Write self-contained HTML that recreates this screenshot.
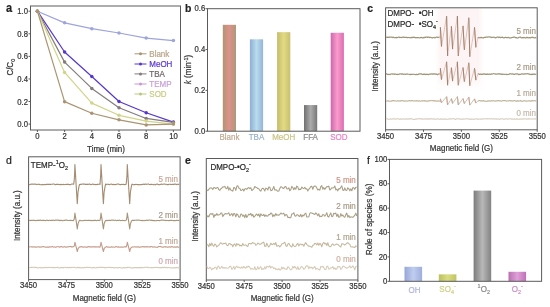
<!DOCTYPE html>
<html><head><meta charset="utf-8"><style>
html,body{margin:0;padding:0;background:#fff;overflow:hidden;width:550px;height:307px;}
svg{display:block;font-family:"Liberation Sans", sans-serif;filter:blur(0.3px);}
text{stroke-width:0.2px;paint-order:stroke;}
</style></head><body>
<svg width="550" height="307" viewBox="0 0 550 307">
<rect width="550" height="307" fill="#fff"/>
<rect x="30.50" y="6.00" width="150.00" height="124.00" fill="none" stroke="#5a5a5a" stroke-width="1"/>
<line x1="28.50" y1="124.10" x2="30.50" y2="124.10" stroke="#5a5a5a" stroke-width="1"/>
<text x="0" y="0" font-size="7.7" text-anchor="end" fill="#333" stroke="#333" font-weight="normal" transform="translate(28.00,127.20) scale(1,1.12)" >0.0</text>
<line x1="28.50" y1="101.52" x2="30.50" y2="101.52" stroke="#5a5a5a" stroke-width="1"/>
<text x="0" y="0" font-size="7.7" text-anchor="end" fill="#333" stroke="#333" font-weight="normal" transform="translate(28.00,104.62) scale(1,1.12)" >0.2</text>
<line x1="28.50" y1="78.94" x2="30.50" y2="78.94" stroke="#5a5a5a" stroke-width="1"/>
<text x="0" y="0" font-size="7.7" text-anchor="end" fill="#333" stroke="#333" font-weight="normal" transform="translate(28.00,82.04) scale(1,1.12)" >0.4</text>
<line x1="28.50" y1="56.36" x2="30.50" y2="56.36" stroke="#5a5a5a" stroke-width="1"/>
<text x="0" y="0" font-size="7.7" text-anchor="end" fill="#333" stroke="#333" font-weight="normal" transform="translate(28.00,59.46) scale(1,1.12)" >0.6</text>
<line x1="28.50" y1="33.78" x2="30.50" y2="33.78" stroke="#5a5a5a" stroke-width="1"/>
<text x="0" y="0" font-size="7.7" text-anchor="end" fill="#333" stroke="#333" font-weight="normal" transform="translate(28.00,36.88) scale(1,1.12)" >0.8</text>
<line x1="28.50" y1="11.20" x2="30.50" y2="11.20" stroke="#5a5a5a" stroke-width="1"/>
<text x="0" y="0" font-size="7.7" text-anchor="end" fill="#333" stroke="#333" font-weight="normal" transform="translate(28.00,14.30) scale(1,1.12)" >1.0</text>
<line x1="37.40" y1="130.00" x2="37.40" y2="132.00" stroke="#5a5a5a" stroke-width="1"/>
<text x="0" y="0" font-size="7.7" text-anchor="middle" fill="#333" stroke="#333" font-weight="normal" transform="translate(37.40,139.20) scale(1,1.12)" >0</text>
<line x1="64.60" y1="130.00" x2="64.60" y2="132.00" stroke="#5a5a5a" stroke-width="1"/>
<text x="0" y="0" font-size="7.7" text-anchor="middle" fill="#333" stroke="#333" font-weight="normal" transform="translate(64.60,139.20) scale(1,1.12)" >2</text>
<line x1="91.80" y1="130.00" x2="91.80" y2="132.00" stroke="#5a5a5a" stroke-width="1"/>
<text x="0" y="0" font-size="7.7" text-anchor="middle" fill="#333" stroke="#333" font-weight="normal" transform="translate(91.80,139.20) scale(1,1.12)" >4</text>
<line x1="119.00" y1="130.00" x2="119.00" y2="132.00" stroke="#5a5a5a" stroke-width="1"/>
<text x="0" y="0" font-size="7.7" text-anchor="middle" fill="#333" stroke="#333" font-weight="normal" transform="translate(119.00,139.20) scale(1,1.12)" >6</text>
<line x1="146.20" y1="130.00" x2="146.20" y2="132.00" stroke="#5a5a5a" stroke-width="1"/>
<text x="0" y="0" font-size="7.7" text-anchor="middle" fill="#333" stroke="#333" font-weight="normal" transform="translate(146.20,139.20) scale(1,1.12)" >8</text>
<line x1="173.40" y1="130.00" x2="173.40" y2="132.00" stroke="#5a5a5a" stroke-width="1"/>
<text x="0" y="0" font-size="7.7" text-anchor="middle" fill="#333" stroke="#333" font-weight="normal" transform="translate(173.40,139.20) scale(1,1.12)" >10</text>
<text x="0" y="0" font-size="8" text-anchor="middle" fill="#333" stroke="#333" font-weight="normal" transform="translate(106.00,151.50) scale(1,1.12)" >Time (min)</text>
<text x="0" y="0" font-size="8" text-anchor="middle" fill="#333" stroke="#333" transform="translate(12.6,67.2) rotate(-90) scale(1,1.12)">C/C<tspan font-size="5.5" dy="2">0</tspan></text>
<text x="0" y="0" font-size="11" text-anchor="start" fill="#222" stroke="#222" font-weight="bold" transform="translate(6.00,12.00) scale(1,1.12)" >a</text>
<polyline points="37.40,11.20 64.60,22.83 91.80,28.70 119.00,32.99 146.20,38.07 173.40,40.55" fill="none" stroke="#9ea4dc" stroke-width="1.2" stroke-linejoin="round" />
<circle cx="37.40" cy="11.20" r="1.75" fill="#9ea4dc"/>
<circle cx="64.60" cy="22.83" r="1.75" fill="#9ea4dc"/>
<circle cx="91.80" cy="28.70" r="1.75" fill="#9ea4dc"/>
<circle cx="119.00" cy="32.99" r="1.75" fill="#9ea4dc"/>
<circle cx="146.20" cy="38.07" r="1.75" fill="#9ea4dc"/>
<circle cx="173.40" cy="40.55" r="1.75" fill="#9ea4dc"/>
<polyline points="37.40,11.20 64.60,51.96 91.80,76.46 119.00,101.52 146.20,112.70 173.40,122.07" fill="none" stroke="#5636cc" stroke-width="1.2" stroke-linejoin="round" />
<circle cx="37.40" cy="11.20" r="1.75" fill="#5636cc"/>
<circle cx="64.60" cy="51.96" r="1.75" fill="#5636cc"/>
<circle cx="91.80" cy="76.46" r="1.75" fill="#5636cc"/>
<circle cx="119.00" cy="101.52" r="1.75" fill="#5636cc"/>
<circle cx="146.20" cy="112.70" r="1.75" fill="#5636cc"/>
<circle cx="173.40" cy="122.07" r="1.75" fill="#5636cc"/>
<polyline points="37.40,11.20 64.60,62.12 91.80,88.42 119.00,107.73 146.20,118.45 173.40,122.41" fill="none" stroke="#857a7c" stroke-width="1.2" stroke-linejoin="round" />
<circle cx="37.40" cy="11.20" r="1.75" fill="#857a7c"/>
<circle cx="64.60" cy="62.12" r="1.75" fill="#857a7c"/>
<circle cx="91.80" cy="88.42" r="1.75" fill="#857a7c"/>
<circle cx="119.00" cy="107.73" r="1.75" fill="#857a7c"/>
<circle cx="146.20" cy="118.45" r="1.75" fill="#857a7c"/>
<circle cx="173.40" cy="122.41" r="1.75" fill="#857a7c"/>
<polyline points="37.40,11.20 64.60,72.39 91.80,103.10 119.00,115.29 146.20,121.05 173.40,124.10" fill="none" stroke="#d2d48a" stroke-width="1.2" stroke-linejoin="round" />
<circle cx="37.40" cy="11.20" r="1.75" fill="#d2d48a"/>
<circle cx="64.60" cy="72.39" r="1.75" fill="#d2d48a"/>
<circle cx="91.80" cy="103.10" r="1.75" fill="#d2d48a"/>
<circle cx="119.00" cy="115.29" r="1.75" fill="#d2d48a"/>
<circle cx="146.20" cy="121.05" r="1.75" fill="#d2d48a"/>
<circle cx="173.40" cy="124.10" r="1.75" fill="#d2d48a"/>
<polyline points="37.40,11.20 64.60,101.63 91.80,113.26 119.00,119.81 146.20,124.89 173.40,124.10" fill="none" stroke="#aa9472" stroke-width="1.2" stroke-linejoin="round" />
<circle cx="37.40" cy="11.20" r="1.75" fill="#aa9472"/>
<circle cx="64.60" cy="101.63" r="1.75" fill="#aa9472"/>
<circle cx="91.80" cy="113.26" r="1.75" fill="#aa9472"/>
<circle cx="119.00" cy="119.81" r="1.75" fill="#aa9472"/>
<circle cx="146.20" cy="124.89" r="1.75" fill="#aa9472"/>
<circle cx="173.40" cy="124.10" r="1.75" fill="#aa9472"/>
<line x1="134.50" y1="53.80" x2="146.50" y2="53.80" stroke="#aa9472" stroke-width="1"/>
<circle cx="140.5" cy="53.80" r="1.5" fill="#aa9472"/>
<text x="0" y="0" font-size="8" text-anchor="start" fill="#b8a488" stroke="#b8a488" font-weight="normal" transform="translate(149.30,56.70) scale(1,1.12)" >Blank</text>
<line x1="134.50" y1="64.00" x2="146.50" y2="64.00" stroke="#5636cc" stroke-width="1"/>
<circle cx="140.5" cy="64.00" r="1.5" fill="#5636cc"/>
<text x="0" y="0" font-size="8" text-anchor="start" fill="#5a36d0" stroke="#5a36d0" font-weight="normal" transform="translate(149.30,66.90) scale(1,1.12)" >MeOH</text>
<line x1="134.50" y1="73.90" x2="146.50" y2="73.90" stroke="#857a7c" stroke-width="1"/>
<circle cx="140.5" cy="73.90" r="1.5" fill="#857a7c"/>
<text x="0" y="0" font-size="8" text-anchor="start" fill="#6e6468" stroke="#6e6468" font-weight="normal" transform="translate(149.30,76.80) scale(1,1.12)" >TBA</text>
<line x1="134.50" y1="84.00" x2="146.50" y2="84.00" stroke="#c49ad8" stroke-width="1"/>
<circle cx="140.5" cy="84.00" r="1.5" fill="#c49ad8"/>
<text x="0" y="0" font-size="8" text-anchor="start" fill="#c8a0d8" stroke="#c8a0d8" font-weight="normal" transform="translate(149.30,86.90) scale(1,1.12)" >TEMP</text>
<line x1="134.50" y1="94.00" x2="146.50" y2="94.00" stroke="#b8c880" stroke-width="1"/>
<circle cx="140.5" cy="94.00" r="1.5" fill="#b8c880"/>
<text x="0" y="0" font-size="8" text-anchor="start" fill="#c8cc80" stroke="#c8cc80" font-weight="normal" transform="translate(149.30,96.90) scale(1,1.12)" >SOD</text>
<defs>
<linearGradient id="gb0" x1="0" x2="1" y1="0" y2="0"><stop offset="0" stop-color="#ae9676"/><stop offset="0.5" stop-color="#e0908a"/><stop offset="1" stop-color="#ab9a7a"/></linearGradient>
<linearGradient id="gb1" x1="0" x2="1" y1="0" y2="0"><stop offset="0" stop-color="#8eaed6"/><stop offset="0.5" stop-color="#b8dcec"/><stop offset="1" stop-color="#96b4d8"/></linearGradient>
<linearGradient id="gb2" x1="0" x2="1" y1="0" y2="0"><stop offset="0" stop-color="#c4bc68"/><stop offset="0.5" stop-color="#e2da84"/><stop offset="1" stop-color="#c8c070"/></linearGradient>
<linearGradient id="gb3" x1="0" x2="1" y1="0" y2="0"><stop offset="0" stop-color="#707070"/><stop offset="0.5" stop-color="#acacac"/><stop offset="1" stop-color="#787878"/></linearGradient>
<linearGradient id="gb4" x1="0" x2="1" y1="0" y2="0"><stop offset="0" stop-color="#cc68ac"/><stop offset="0.5" stop-color="#fa9ccc"/><stop offset="1" stop-color="#dc6cb0"/></linearGradient>
</defs>
<rect x="222.80" y="24.81" width="13.2" height="106.39" fill="url(#gb0)"/>
<text x="0" y="0" font-size="8" text-anchor="middle" fill="#c0a890" stroke="#c0a890" font-weight="normal" transform="translate(229.40,139.50) scale(1,1.12)" >Blank</text>
<rect x="249.90" y="39.31" width="13.2" height="91.89" fill="url(#gb1)"/>
<text x="0" y="0" font-size="8" text-anchor="middle" fill="#98b0cc" stroke="#98b0cc" font-weight="normal" transform="translate(256.50,139.50) scale(1,1.12)" >TBA</text>
<rect x="277.10" y="32.16" width="13.2" height="99.04" fill="url(#gb2)"/>
<text x="0" y="0" font-size="8" text-anchor="middle" fill="#cac486" stroke="#cac486" font-weight="normal" transform="translate(283.70,139.50) scale(1,1.12)" >MeOH</text>
<rect x="304.00" y="105.06" width="13.2" height="26.14" fill="url(#gb3)"/>
<text x="0" y="0" font-size="8" text-anchor="middle" fill="#8a8a8a" stroke="#8a8a8a" font-weight="normal" transform="translate(310.60,139.50) scale(1,1.12)" >FFA</text>
<rect x="330.70" y="32.78" width="13.2" height="98.42" fill="url(#gb4)"/>
<text x="0" y="0" font-size="8" text-anchor="middle" fill="#e484c8" stroke="#e484c8" font-weight="normal" transform="translate(338.80,139.50) scale(1,1.12)" >SOD</text>
<rect x="207.50" y="8.70" width="152.50" height="122.50" fill="none" stroke="#5a5a5a" stroke-width="1"/>
<line x1="205.50" y1="131.20" x2="207.50" y2="131.20" stroke="#5a5a5a" stroke-width="1"/>
<text x="0" y="0" font-size="7.7" text-anchor="end" fill="#333" stroke="#333" font-weight="normal" transform="translate(205.20,134.00) scale(1,1.12)" >0.0</text>
<line x1="205.50" y1="90.36" x2="207.50" y2="90.36" stroke="#5a5a5a" stroke-width="1"/>
<text x="0" y="0" font-size="7.7" text-anchor="end" fill="#333" stroke="#333" font-weight="normal" transform="translate(205.20,93.16) scale(1,1.12)" >0.2</text>
<line x1="205.50" y1="49.52" x2="207.50" y2="49.52" stroke="#5a5a5a" stroke-width="1"/>
<text x="0" y="0" font-size="7.7" text-anchor="end" fill="#333" stroke="#333" font-weight="normal" transform="translate(205.20,52.32) scale(1,1.12)" >0.4</text>
<line x1="205.50" y1="8.68" x2="207.50" y2="8.68" stroke="#5a5a5a" stroke-width="1"/>
<text x="0" y="0" font-size="7.7" text-anchor="end" fill="#333" stroke="#333" font-weight="normal" transform="translate(205.20,11.48) scale(1,1.12)" >0.6</text>
<text x="0" y="0" font-size="8" text-anchor="middle" fill="#333" stroke="#333" transform="translate(191.2,69.5) rotate(-90) scale(1,1.12)"><tspan font-style="italic">k</tspan> (min<tspan font-size="5.5" dy="-3">-1</tspan><tspan dy="3">)</tspan></text>
<text x="0" y="0" font-size="10.5" text-anchor="start" fill="#222" stroke="#222" font-weight="bold" transform="translate(185.00,11.60) scale(1,1.12)" >b</text>
<defs><linearGradient id="pband" x1="0" x2="1" y1="0" y2="0"><stop offset="0" stop-color="#fdf3f3" stop-opacity="0"/><stop offset="0.12" stop-color="#fdf5f5"/><stop offset="0.88" stop-color="#fdf5f5"/><stop offset="1" stop-color="#fdf3f3" stop-opacity="0"/></linearGradient></defs>
<defs><linearGradient id="vfade" x1="0" x2="0" y1="0" y2="1"><stop offset="0" stop-color="#fff"/><stop offset="0.8" stop-color="#fff"/><stop offset="1" stop-color="#000"/></linearGradient><mask id="vmask" maskContentUnits="userSpaceOnUse"><rect x="435" y="8" width="49" height="84" fill="url(#vfade)"/></mask></defs>
<rect x="435" y="8.3" width="49" height="84" fill="url(#pband)" mask="url(#vmask)"/>
<rect x="385.60" y="7.80" width="151.60" height="122.00" fill="none" stroke="#5a5a5a" stroke-width="1"/>
<line x1="385.60" y1="129.80" x2="385.60" y2="131.80" stroke="#5a5a5a" stroke-width="1"/>
<text x="0" y="0" font-size="7.7" text-anchor="middle" fill="#333" stroke="#333" font-weight="normal" transform="translate(385.60,138.60) scale(1,1.12)" >3450</text>
<line x1="423.50" y1="129.80" x2="423.50" y2="131.80" stroke="#5a5a5a" stroke-width="1"/>
<text x="0" y="0" font-size="7.7" text-anchor="middle" fill="#333" stroke="#333" font-weight="normal" transform="translate(423.50,138.60) scale(1,1.12)" >3475</text>
<line x1="461.40" y1="129.80" x2="461.40" y2="131.80" stroke="#5a5a5a" stroke-width="1"/>
<text x="0" y="0" font-size="7.7" text-anchor="middle" fill="#333" stroke="#333" font-weight="normal" transform="translate(461.40,138.60) scale(1,1.12)" >3500</text>
<line x1="499.30" y1="129.80" x2="499.30" y2="131.80" stroke="#5a5a5a" stroke-width="1"/>
<text x="0" y="0" font-size="7.7" text-anchor="middle" fill="#333" stroke="#333" font-weight="normal" transform="translate(499.30,138.60) scale(1,1.12)" >3525</text>
<line x1="537.20" y1="129.80" x2="537.20" y2="131.80" stroke="#5a5a5a" stroke-width="1"/>
<text x="0" y="0" font-size="7.7" text-anchor="middle" fill="#333" stroke="#333" font-weight="normal" transform="translate(537.20,138.60) scale(1,1.12)" >3550</text>
<text x="0" y="0" font-size="8" text-anchor="middle" fill="#333" stroke="#333" font-weight="normal" transform="translate(461.40,151.20) scale(1,1.12)" >Magnetic field (G)</text>
<text x="0" y="0" font-size="8" text-anchor="middle" fill="#333" stroke="#333" transform="translate(378.30,66.50) rotate(-90) scale(1,1.12)">Intensity (a.u.)</text>
<text x="0" y="0" font-size="10.5" text-anchor="start" fill="#222" stroke="#222" font-weight="bold" transform="translate(367.20,11.90) scale(1,1.12)" >c</text>
<text x="0" y="0" font-size="8" text-anchor="start" fill="#2a2a2a" stroke="#2a2a2a" font-weight="normal" transform="translate(387.60,16.00) scale(1,1.12)" >DMPO-&#160;&#160;•OH</text>
<text x="0" y="0" font-size="8" fill="#2a2a2a" stroke="#2a2a2a" transform="translate(387.6,27.0) scale(1,1.12)">DMPO-&#160;&#160;•SO<tspan font-size="5.5" dy="1.8">4</tspan><tspan font-size="5.5" dy="-5">-</tspan></text>
<polyline points="386.10,37.38 386.60,37.19 387.10,37.45 387.60,37.18 388.10,37.36 388.60,37.34 389.10,37.11 389.60,37.31 390.10,37.08 390.60,37.24 391.10,37.07 391.60,37.00 392.10,37.20 392.60,37.58 393.10,37.28 393.60,37.19 394.10,37.44 394.60,37.78 395.10,37.69 395.60,37.53 396.10,37.85 396.60,37.36 397.10,37.68 397.60,37.44 398.10,37.22 398.60,37.09 399.10,37.16 399.60,37.55 400.10,37.30 400.60,37.46 401.10,37.58 401.60,37.45 402.10,37.51 402.60,37.20 403.10,37.04 403.60,37.06 404.10,37.41 404.60,37.40 405.10,37.32 405.60,37.47 406.10,37.45 406.60,37.34 407.10,37.62 407.60,37.70 408.10,37.42 408.60,37.51 409.10,37.52 409.60,37.77 410.10,37.80 410.60,37.50 411.10,37.84 411.60,37.40 412.10,37.39 412.60,37.63 413.10,37.32 413.60,37.40 414.10,37.13 414.60,37.43 415.10,37.65 415.60,37.63 416.10,37.83 416.60,37.53 417.10,37.65 417.60,37.64 418.10,37.63 418.60,37.53 419.10,37.75 419.60,37.94 420.10,37.70 420.60,37.72 421.10,37.30 421.60,37.54 422.10,37.62 422.60,37.91 423.10,37.93 423.60,37.56 424.10,37.45 424.60,37.59 425.10,37.21 425.60,37.33 426.10,37.18 426.60,37.07 427.10,36.98 427.60,37.43 428.10,37.20 428.60,37.18 429.10,37.26 429.60,37.64 430.10,37.28 430.60,37.35 431.10,37.46 431.60,37.75 432.10,37.85 432.60,37.93 433.10,37.56 433.60,37.47 434.10,37.39 434.60,37.71 435.10,37.93 435.60,37.47 436.10,37.26 436.60,37.19 437.10,37.16 437.60,37.32 438.10,37.47 438.60,37.32 439.10,37.06 439.60,37.22" fill="none" stroke="#9e9478" stroke-width="1.2" stroke-linejoin="round" />
<polyline points="477.80,37.41 478.30,37.50 478.80,37.82 479.30,37.79 479.80,37.66 480.30,37.66 480.80,37.70 481.30,37.29 481.80,37.67 482.30,37.78 482.80,37.90 483.30,37.91 483.80,37.63 484.30,37.49 484.80,37.22 485.30,37.45 485.80,37.17 486.30,37.03 486.80,37.06 487.30,37.04 487.80,37.16 488.30,37.02 488.80,36.91 489.30,36.96 489.80,36.95 490.30,37.13 490.80,36.98 491.30,37.50 491.80,37.58 492.30,37.29 492.80,37.22 493.30,37.26 493.80,37.28 494.30,37.13 494.80,37.56 495.30,37.87 495.80,37.66 496.30,37.57 496.80,37.25 497.30,37.09 497.80,37.19 498.30,37.18 498.80,37.57 499.30,37.30 499.80,37.07 500.30,37.60 500.80,37.57 501.30,37.29 501.80,37.42 502.30,37.13 502.80,37.34 503.30,37.75 503.80,37.88 504.30,37.83 504.80,37.50 505.30,37.40 505.80,37.22 506.30,37.55 506.80,37.55 507.30,37.72 507.80,37.49 508.30,37.30 508.80,37.62 509.30,37.90 509.80,37.95 510.30,37.94 510.80,37.94 511.30,37.89 511.80,37.50 512.30,37.51 512.80,37.41 513.30,37.12 513.80,36.98 514.30,37.09 514.80,37.12 515.30,37.45 515.80,37.79 516.30,37.61 516.80,37.86 517.30,38.02 517.80,38.08 518.30,37.69 518.80,37.40 519.30,37.26 519.80,37.17 520.30,37.13 520.80,37.40 521.30,37.73 521.80,37.85 522.30,37.66 522.80,37.69 523.30,37.80 523.80,37.36 524.30,37.54 524.80,37.81 525.30,37.85 525.80,37.85 526.30,37.66 526.80,37.36 527.30,37.63 527.80,37.45 528.30,37.68 528.80,37.92 529.30,37.64 529.80,37.50 530.30,37.81 530.80,37.81 531.30,37.43 531.80,37.20 532.30,37.11 532.80,37.59 533.30,37.76 533.80,37.38 534.30,37.67 534.80,37.92 535.30,37.82 535.80,37.56 536.30,37.56" fill="none" stroke="#9e9478" stroke-width="1.2" stroke-linejoin="round" />
<polyline points="439.60,37.50 440.20,38.50 440.40,27.20 441.50,46.50 446.60,16.00 447.60,55.90 451.40,26.20 452.60,49.10 457.40,16.00 458.30,55.90 463.00,25.90 464.40,49.90 468.80,17.70 469.80,56.70 474.50,27.20 475.90,47.40 477.80,37.50" fill="none" stroke="#e0b4ac" stroke-width="0.8" stroke-linejoin="round" />
<line x1="440.40" y1="27.20" x2="441.50" y2="46.50" stroke="#9c8470" stroke-width="1.05"/>
<line x1="446.60" y1="16.00" x2="447.60" y2="55.90" stroke="#9c8470" stroke-width="1.05"/>
<line x1="451.40" y1="26.20" x2="452.60" y2="49.10" stroke="#9c8470" stroke-width="1.05"/>
<line x1="457.40" y1="16.00" x2="458.30" y2="55.90" stroke="#9c8470" stroke-width="1.05"/>
<line x1="463.00" y1="25.90" x2="464.40" y2="49.90" stroke="#9c8470" stroke-width="1.05"/>
<line x1="468.80" y1="17.70" x2="469.80" y2="56.70" stroke="#9c8470" stroke-width="1.05"/>
<line x1="474.50" y1="27.20" x2="475.90" y2="47.40" stroke="#9c8470" stroke-width="1.05"/>
<text x="0" y="0" font-size="8" text-anchor="end" fill="#a89a86" stroke="#a89a86" font-weight="normal" transform="translate(536.00,33.90) scale(1,1.12)" >5 min</text>
<polyline points="386.10,73.94 386.60,73.73 387.10,74.30 387.60,74.35 388.10,74.29 388.60,74.55 389.10,74.33 389.60,74.52 390.10,74.59 390.60,74.19 391.10,74.02 391.60,73.97 392.10,73.90 392.60,74.11 393.10,73.99 393.60,74.04 394.10,73.86 394.60,74.32 395.10,74.16 395.60,74.15 396.10,74.23 396.60,74.50 397.10,74.29 397.60,74.54 398.10,74.37 398.60,74.31 399.10,74.27 399.60,73.90 400.10,74.01 400.60,73.88 401.10,73.69 401.60,74.16 402.10,73.95 402.60,74.06 403.10,74.29 403.60,74.28 404.10,74.12 404.60,74.17 405.10,74.23 405.60,74.41 406.10,74.03 406.60,74.16 407.10,74.00 407.60,73.95 408.10,74.26 408.60,74.24 409.10,74.26 409.60,74.41 410.10,74.60 410.60,74.36 411.10,74.36 411.60,74.28 412.10,74.25 412.60,74.36 413.10,74.25 413.60,74.25 414.10,74.21 414.60,74.51 415.10,74.50 415.60,74.61 416.10,74.72 416.60,74.29 417.10,74.29 417.60,74.55 418.10,74.61 418.60,74.15 419.10,73.91 419.60,74.02 420.10,73.81 420.60,73.82 421.10,73.71 421.60,74.07 422.10,74.34 422.60,74.55 423.10,74.13 423.60,74.32 424.10,74.37 424.60,74.04 425.10,74.39 425.60,74.62 426.10,74.21 426.60,74.52 427.10,74.29 427.60,74.24 428.10,74.56 428.60,74.61 429.10,74.17 429.60,74.14 430.10,74.18 430.60,74.08 431.10,73.93 431.60,73.94 432.10,74.22 432.60,73.88 433.10,74.08 433.60,74.10 434.10,73.81 434.60,73.89 435.10,74.13 435.60,74.17 436.10,73.88 436.60,74.38 437.10,74.49 437.60,74.68 438.10,74.16 438.60,74.02 439.10,73.79 439.60,74.19" fill="none" stroke="#9e9478" stroke-width="1.2" stroke-linejoin="round" />
<polyline points="477.80,74.04 478.30,73.86 478.80,73.98 479.30,74.38 479.80,74.51 480.30,74.19 480.80,73.95 481.30,74.37 481.80,74.33 482.30,74.41 482.80,74.02 483.30,73.80 483.80,74.13 484.30,74.11 484.80,73.86 485.30,74.34 485.80,74.36 486.30,74.49 486.80,74.05 487.30,74.38 487.80,73.98 488.30,74.35 488.80,74.24 489.30,74.11 489.80,74.19 490.30,74.49 490.80,74.18 491.30,73.93 491.80,74.09 492.30,73.96 492.80,73.81 493.30,73.77 493.80,73.67 494.30,73.73 494.80,73.83 495.30,73.88 495.80,74.22 496.30,74.06 496.80,74.13 497.30,73.94 497.80,73.96 498.30,73.74 498.80,73.80 499.30,73.66 499.80,74.09 500.30,74.18 500.80,73.97 501.30,74.07 501.80,74.44 502.30,74.04 502.80,74.35 503.30,74.23 503.80,74.21 504.30,74.44 504.80,74.24 505.30,74.23 505.80,74.34 506.30,74.61 506.80,74.29 507.30,74.48 507.80,74.48 508.30,74.44 508.80,74.25 509.30,74.12 509.80,73.85 510.30,73.76 510.80,73.68 511.30,74.11 511.80,73.98 512.30,73.86 512.80,73.74 513.30,74.21 513.80,74.46 514.30,74.45 514.80,74.17 515.30,74.01 515.80,73.96 516.30,74.05 516.80,73.89 517.30,74.00 517.80,73.94 518.30,74.39 518.80,74.63 519.30,74.45 519.80,74.14 520.30,74.50 520.80,74.22 521.30,74.11 521.80,73.80 522.30,73.92 522.80,74.04 523.30,74.12 523.80,73.95 524.30,74.08 524.80,73.79 525.30,73.83 525.80,73.73 526.30,73.89 526.80,73.73 527.30,73.63 527.80,73.78 528.30,73.80 528.80,74.06 529.30,74.15 529.80,74.35 530.30,74.39 530.80,74.44 531.30,74.59 531.80,74.32 532.30,74.14 532.80,74.51 533.30,74.11 533.80,74.31 534.30,74.36 534.80,73.96 535.30,74.31 535.80,74.53 536.30,74.45" fill="none" stroke="#9e9478" stroke-width="1.2" stroke-linejoin="round" />
<polyline points="439.60,74.20 440.20,75.20 440.40,68.23 441.50,79.60 446.60,61.73 447.60,85.24 451.40,67.65 452.60,81.16 457.40,61.73 458.30,85.24 463.00,67.47 464.40,81.64 468.80,62.72 469.80,85.72 474.50,68.23 475.90,80.14 477.80,74.20" fill="none" stroke="#e0b6ac" stroke-width="0.8" stroke-linejoin="round" />
<line x1="440.40" y1="68.23" x2="441.50" y2="79.60" stroke="#9c8470" stroke-width="1.05"/>
<line x1="446.60" y1="61.73" x2="447.60" y2="85.24" stroke="#9c8470" stroke-width="1.05"/>
<line x1="451.40" y1="67.65" x2="452.60" y2="81.16" stroke="#9c8470" stroke-width="1.05"/>
<line x1="457.40" y1="61.73" x2="458.30" y2="85.24" stroke="#9c8470" stroke-width="1.05"/>
<line x1="463.00" y1="67.47" x2="464.40" y2="81.64" stroke="#9c8470" stroke-width="1.05"/>
<line x1="468.80" y1="62.72" x2="469.80" y2="85.72" stroke="#9c8470" stroke-width="1.05"/>
<line x1="474.50" y1="68.23" x2="475.90" y2="80.14" stroke="#9c8470" stroke-width="1.05"/>
<text x="0" y="0" font-size="8" text-anchor="end" fill="#a89a86" stroke="#a89a86" font-weight="normal" transform="translate(536.00,69.70) scale(1,1.12)" >2 min</text>
<polyline points="386.10,101.04 386.60,101.16 387.10,100.81 387.60,100.87 388.10,100.89 388.60,101.09 389.10,101.18 389.60,101.24 390.10,101.12 390.60,101.24 391.10,101.18 391.60,101.16 392.10,100.87 392.60,100.60 393.10,100.53 393.60,100.63 394.10,100.53 394.60,100.92 395.10,100.94 395.60,101.00 396.10,101.02 396.60,101.07 397.10,100.98 397.60,100.64 398.10,100.95 398.60,101.07 399.10,100.99 399.60,100.97 400.10,101.03 400.60,100.70 401.10,100.94 401.60,100.77 402.10,100.58 402.60,100.60 403.10,100.89 403.60,100.72 404.10,100.95 404.60,101.21 405.10,101.05 405.60,100.91 406.10,100.89 406.60,101.01 407.10,101.11 407.60,101.08 408.10,101.07 408.60,100.73 409.10,100.61 409.60,100.60 410.10,100.90 410.60,100.78 411.10,100.88 411.60,100.60 412.10,100.49 412.60,100.55 413.10,100.83 413.60,100.98 414.10,101.05 414.60,100.85 415.10,100.88 415.60,100.87 416.10,100.87 416.60,100.65 417.10,101.01 417.60,100.78 418.10,101.12 418.60,101.27 419.10,100.80 419.60,100.82 420.10,101.05 420.60,101.26 421.10,101.05 421.60,100.84 422.10,100.69 422.60,101.06 423.10,100.81 423.60,100.90 424.10,100.69 424.60,100.81 425.10,101.13 425.60,100.79 426.10,101.04 426.60,100.97 427.10,101.17 427.60,101.16 428.10,100.87 428.60,101.12 429.10,101.00 429.60,100.67 430.10,100.49 430.60,100.69 431.10,100.76 431.60,100.71 432.10,100.59 432.60,100.65 433.10,100.67 433.60,100.99 434.10,100.64 434.60,100.92 435.10,101.11 435.60,100.78 436.10,101.10 436.60,101.13 437.10,101.25 437.60,100.95 438.10,100.85 438.60,100.81 439.10,101.15 439.60,101.08" fill="none" stroke="#c2b69e" stroke-width="1.2" stroke-linejoin="round" />
<polyline points="477.80,100.82 478.30,100.82 478.80,100.72 479.30,100.54 479.80,100.48 480.30,100.89 480.80,100.77 481.30,101.09 481.80,100.85 482.30,100.73 482.80,100.82 483.30,100.68 483.80,100.71 484.30,101.08 484.80,101.22 485.30,101.25 485.80,101.15 486.30,101.27 486.80,101.35 487.30,101.16 487.80,101.16 488.30,100.76 488.80,100.97 489.30,100.91 489.80,101.05 490.30,101.06 490.80,100.85 491.30,100.61 491.80,101.01 492.30,100.73 492.80,100.80 493.30,100.76 493.80,100.71 494.30,100.95 494.80,101.21 495.30,100.91 495.80,101.00 496.30,100.83 496.80,100.90 497.30,100.84 497.80,100.67 498.30,100.58 498.80,100.57 499.30,100.98 499.80,100.94 500.30,100.75 500.80,101.07 501.30,101.28 501.80,101.06 502.30,100.76 502.80,100.65 503.30,100.53 503.80,100.62 504.30,100.51 504.80,100.55 505.30,100.58 505.80,100.78 506.30,101.07 506.80,101.14 507.30,100.97 507.80,100.88 508.30,100.91 508.80,100.83 509.30,100.77 509.80,100.57 510.30,100.60 510.80,101.03 511.30,100.74 511.80,100.82 512.30,100.94 512.80,101.14 513.30,100.85 513.80,100.74 514.30,100.67 514.80,100.72 515.30,100.78 515.80,101.11 516.30,101.22 516.80,101.28 517.30,100.80 517.80,100.57 518.30,100.86 518.80,101.12 519.30,100.99 519.80,101.00 520.30,100.65 520.80,100.71 521.30,101.06 521.80,101.18 522.30,101.25 522.80,101.36 523.30,100.98 523.80,100.70 524.30,100.59 524.80,100.76 525.30,100.94 525.80,101.18 526.30,101.18 526.80,101.13 527.30,101.17 527.80,101.01 528.30,100.99 528.80,100.67 529.30,100.95 529.80,100.77 530.30,101.08 530.80,101.08 531.30,100.87 531.80,100.66 532.30,100.63 532.80,100.85 533.30,100.99 533.80,100.71 534.30,100.55 534.80,100.74 535.30,100.87 535.80,100.82 536.30,100.69" fill="none" stroke="#c2b69e" stroke-width="1.2" stroke-linejoin="round" />
<polyline points="439.60,100.90 440.20,101.90 440.40,98.84 441.50,102.88 446.60,96.60 447.60,104.95 451.40,98.64 452.60,103.45 457.40,96.60 458.30,104.95 463.00,98.58 464.40,103.63 468.80,96.94 469.80,105.12 474.50,98.84 475.90,103.08 477.80,100.90" fill="none" stroke="#c8b0a0" stroke-width="0.8" stroke-linejoin="round" />
<line x1="440.40" y1="98.84" x2="441.50" y2="102.88" stroke="#c4a898" stroke-width="1.05"/>
<line x1="446.60" y1="96.60" x2="447.60" y2="104.95" stroke="#c4a898" stroke-width="1.05"/>
<line x1="451.40" y1="98.64" x2="452.60" y2="103.45" stroke="#c4a898" stroke-width="1.05"/>
<line x1="457.40" y1="96.60" x2="458.30" y2="104.95" stroke="#c4a898" stroke-width="1.05"/>
<line x1="463.00" y1="98.58" x2="464.40" y2="103.63" stroke="#c4a898" stroke-width="1.05"/>
<line x1="468.80" y1="96.94" x2="469.80" y2="105.12" stroke="#c4a898" stroke-width="1.05"/>
<line x1="474.50" y1="98.84" x2="475.90" y2="103.08" stroke="#c4a898" stroke-width="1.05"/>
<text x="0" y="0" font-size="8" text-anchor="end" fill="#b8aa98" stroke="#b8aa98" font-weight="normal" transform="translate(536.00,96.30) scale(1,1.12)" >1 min</text>
<polyline points="386.10,119.06 386.60,118.74 387.10,118.75 387.60,118.85 388.10,119.20 388.60,119.19 389.10,119.32 389.60,119.15 390.10,118.91 390.60,118.81 391.10,119.18 391.60,119.21 392.10,118.99 392.60,118.71 393.10,118.85 393.60,119.03 394.10,118.97 394.60,118.84 395.10,119.02 395.60,119.26 396.10,118.97 396.60,118.70 397.10,118.76 397.60,118.83 398.10,119.02 398.60,118.83 399.10,119.09 399.60,119.19 400.10,119.10 400.60,118.87 401.10,119.22 401.60,119.00 402.10,119.19 402.60,118.93 403.10,118.80 403.60,119.06 404.10,118.91 404.60,119.22 405.10,119.11 405.60,118.87 406.10,118.77 406.60,118.83 407.10,119.02 407.60,119.28 408.10,118.93 408.60,118.90 409.10,118.78 409.60,119.17 410.10,118.87 410.60,118.67 411.10,118.57 411.60,118.72 412.10,119.10 412.60,119.28 413.10,119.28 413.60,119.44 414.10,119.48 414.60,119.14 415.10,118.88 415.60,119.20 416.10,119.25 416.60,118.84 417.10,119.02 417.60,118.94 418.10,118.89 418.60,118.85 419.10,118.72 419.60,118.56 420.10,118.65 420.60,118.74 421.10,119.14 421.60,118.84 422.10,119.20 422.60,118.92 423.10,118.88 423.60,119.13 424.10,119.26 424.60,119.09 425.10,118.77 425.60,118.87 426.10,118.86 426.60,119.18 427.10,118.91 427.60,118.87 428.10,119.17 428.60,118.81 429.10,118.85 429.60,119.11 430.10,119.22 430.60,118.83 431.10,118.64 431.60,118.56 432.10,119.03 432.60,118.87 433.10,119.08 433.60,119.28 434.10,119.04 434.60,118.89 435.10,119.22 435.60,119.18 436.10,118.95 436.60,119.10 437.10,118.94 437.60,118.84 438.10,118.62 438.60,118.96 439.10,119.23 439.60,119.20 440.10,119.36 440.60,118.90 441.10,118.79 441.60,118.88 442.10,119.21 442.60,119.38 443.10,119.12 443.60,118.91 444.10,118.91 444.60,118.95 445.10,119.23 445.60,118.93 446.10,119.14 446.60,119.22 447.10,119.30 447.60,119.31 448.10,119.22 448.60,119.01 449.10,118.90 449.60,118.86 450.10,119.10 450.60,118.80 451.10,118.72 451.60,119.01 452.10,118.85 452.60,118.67 453.10,118.55 453.60,118.81 454.10,118.80 454.60,119.19 455.10,119.32 455.60,119.45 456.10,119.09 456.60,118.79 457.10,118.65 457.60,118.83 458.10,119.04 458.60,118.99 459.10,118.83 459.60,118.87 460.10,119.01 460.60,119.11 461.10,119.20 461.60,119.31 462.10,119.25 462.60,118.90 463.10,119.15 463.60,118.95 464.10,119.02 464.60,118.93 465.10,119.11 465.60,118.87 466.10,118.79 466.60,118.74 467.10,118.66 467.60,119.06 468.10,119.08 468.60,118.93 469.10,118.90 469.60,119.25 470.10,119.13 470.60,118.90 471.10,119.14 471.60,119.16 472.10,119.37 472.60,118.95 473.10,118.96 473.60,119.17 474.10,119.29 474.60,119.39 475.10,118.92 475.60,118.84 476.10,118.69 476.60,118.66 477.10,119.11 477.60,119.11 478.10,119.31 478.60,119.08 479.10,119.26 479.60,119.10 480.10,118.91 480.60,119.12 481.10,119.33 481.60,118.93 482.10,119.02 482.60,119.08 483.10,118.87 483.60,118.86 484.10,118.71 484.60,118.68 485.10,118.69 485.60,118.91 486.10,119.04 486.60,118.84 487.10,118.63 487.60,118.71 488.10,118.96 488.60,118.79 489.10,118.78 489.60,118.71 490.10,119.03 490.60,119.05 491.10,118.76 491.60,118.64 492.10,118.76 492.60,118.91 493.10,119.04 493.60,118.77 494.10,118.69 494.60,118.96 495.10,118.93 495.60,118.83 496.10,118.80 496.60,119.17 497.10,118.97 497.60,119.03 498.10,118.93 498.60,118.91 499.10,119.18 499.60,119.39 500.10,119.11 500.60,118.87 501.10,119.07 501.60,118.86 502.10,118.63 502.60,119.06 503.10,118.98 503.60,119.18 504.10,119.04 504.60,119.25 505.10,119.10 505.60,118.85 506.10,118.63 506.60,118.85 507.10,119.01 507.60,119.25 508.10,118.88 508.60,119.01 509.10,118.93 509.60,118.97 510.10,118.77 510.60,118.76 511.10,118.89 511.60,119.20 512.10,118.87 512.60,118.93 513.10,119.15 513.60,119.35 514.10,119.00 514.60,118.77 515.10,119.15 515.60,119.36 516.10,119.17 516.60,118.82 517.10,119.16 517.60,119.01 518.10,119.25 518.60,119.20 519.10,119.29 519.60,118.94 520.10,119.14 520.60,118.90 521.10,118.90 521.60,119.16 522.10,119.28 522.60,118.95 523.10,118.80 523.60,118.84 524.10,118.93 524.60,118.90 525.10,118.72 525.60,118.71 526.10,118.99 526.60,119.23 527.10,118.84 527.60,118.96 528.10,119.13 528.60,118.79 529.10,119.10 529.60,118.82 530.10,118.97 530.60,119.01 531.10,119.08 531.60,118.93 532.10,118.91 532.60,119.01 533.10,118.96 533.60,119.07 534.10,119.01 534.60,118.97 535.10,118.70 535.60,118.92 536.10,118.95 536.60,118.82" fill="none" stroke="#d8ccbc" stroke-width="1.1" stroke-linejoin="round" />
<text x="0" y="0" font-size="8" text-anchor="end" fill="#c4b8aa" stroke="#c4b8aa" font-weight="normal" transform="translate(536.00,115.80) scale(1,1.12)" >0 min</text>
<rect x="28.60" y="156.80" width="151.50" height="122.80" fill="none" stroke="#5a5a5a" stroke-width="1"/>
<line x1="28.60" y1="279.60" x2="28.60" y2="281.60" stroke="#5a5a5a" stroke-width="1"/>
<text x="0" y="0" font-size="7.7" text-anchor="middle" fill="#333" stroke="#333" font-weight="normal" transform="translate(28.60,288.30) scale(1,1.12)" >3450</text>
<line x1="66.47" y1="279.60" x2="66.47" y2="281.60" stroke="#5a5a5a" stroke-width="1"/>
<text x="0" y="0" font-size="7.7" text-anchor="middle" fill="#333" stroke="#333" font-weight="normal" transform="translate(66.47,288.30) scale(1,1.12)" >3475</text>
<line x1="104.35" y1="279.60" x2="104.35" y2="281.60" stroke="#5a5a5a" stroke-width="1"/>
<text x="0" y="0" font-size="7.7" text-anchor="middle" fill="#333" stroke="#333" font-weight="normal" transform="translate(104.35,288.30) scale(1,1.12)" >3500</text>
<line x1="142.22" y1="279.60" x2="142.22" y2="281.60" stroke="#5a5a5a" stroke-width="1"/>
<text x="0" y="0" font-size="7.7" text-anchor="middle" fill="#333" stroke="#333" font-weight="normal" transform="translate(142.22,288.30) scale(1,1.12)" >3525</text>
<line x1="180.10" y1="279.60" x2="180.10" y2="281.60" stroke="#5a5a5a" stroke-width="1"/>
<text x="0" y="0" font-size="7.7" text-anchor="middle" fill="#333" stroke="#333" font-weight="normal" transform="translate(180.10,288.30) scale(1,1.12)" >3550</text>
<text x="0" y="0" font-size="8" text-anchor="middle" fill="#333" stroke="#333" font-weight="normal" transform="translate(104.30,300.80) scale(1,1.12)" >Magnetic field (G)</text>
<text x="0" y="0" font-size="8" text-anchor="middle" fill="#333" stroke="#333" transform="translate(20.30,215.60) rotate(-90) scale(1,1.12)">Intensity (a.u.)</text>
<text x="0" y="0" font-size="10.5" text-anchor="start" fill="#222" stroke="#222" font-weight="normal" transform="translate(6.00,164.00) scale(1,1.12)" >d</text>
<text x="0" y="0" font-size="8" fill="#2a2a2a" stroke="#2a2a2a" transform="translate(30.8,167.8) scale(1,1.12)">TEMP-<tspan font-size="5.5" dy="-3">1</tspan><tspan dy="3">O</tspan><tspan font-size="5.5" dy="1.8">2</tspan></text>
<polyline points="29.10,184.56 29.60,184.65 30.10,184.50 30.60,184.26 31.10,184.31 31.60,184.12 32.10,184.04 32.60,184.18 33.10,184.04 33.60,184.19 34.10,184.30 34.60,184.07 35.10,184.32 35.60,184.11 36.10,184.39 36.60,184.56 37.10,184.49 37.60,184.18 38.10,184.29 38.60,184.27 39.10,184.61 39.60,184.29 40.10,184.56 40.60,184.78 41.10,184.73 41.60,184.75 42.10,184.39 42.60,184.69 43.10,184.54 43.60,184.74 44.10,184.82 44.60,184.41 45.10,184.58 45.60,184.75 46.10,184.31 46.60,184.27 47.10,184.49 47.60,184.24 48.10,184.56 48.60,184.34 49.10,184.56 49.60,184.27 50.10,184.33 50.60,184.62 51.10,184.33 51.60,184.23 52.10,184.32 52.60,184.25 53.10,184.05 53.60,184.03 54.10,184.01 54.60,184.47 55.10,184.54 55.60,184.71 56.10,184.36 56.60,184.55 57.10,184.24 57.60,184.34 58.10,184.45 58.60,184.34 59.10,184.59 59.60,184.53 60.10,184.51 60.60,184.69 61.10,184.31 61.60,184.65 62.10,184.60 62.60,184.44 63.10,184.60 63.60,184.36 64.10,184.67 64.60,184.58 65.10,184.41 65.60,184.56 66.10,184.45 66.60,184.23 67.10,184.46 67.60,184.16 68.10,184.47 68.60,184.29 69.10,184.43 69.60,184.70 70.10,184.60 70.60,184.60 71.10,184.39 71.60,184.09 72.10,183.97 72.60,183.97 73.10,184.26 73.60,184.29 74.10,181.43 74.60,174.50 74.90,164.60 76.10,184.40 77.30,203.60 78.00,192.08 79.00,186.32 79.50,184.41 80.00,184.64 80.50,184.30 81.00,184.19 81.50,184.38 82.00,184.11 82.50,183.95 83.00,184.09 83.50,184.01 84.00,184.12 84.50,184.09 85.00,184.30 85.50,184.40 86.00,184.22 86.50,184.39 87.00,184.38 87.50,184.17 88.00,184.55 88.50,184.32 89.00,184.15 89.50,184.03 90.00,184.30 90.50,184.57 91.00,184.66 91.50,184.47 92.00,184.29 92.50,184.05 93.00,184.31 93.50,184.39 94.00,184.31 94.50,184.44 95.00,184.39 95.50,184.66 96.00,184.67 96.50,184.38 97.00,184.63 97.50,184.24 98.00,184.34 98.50,184.31 99.00,184.20 99.50,184.03 100.00,184.38 100.20,181.43 100.70,174.50 101.00,164.60 102.20,184.40 103.40,203.60 104.10,192.08 105.10,186.32 105.60,184.11 106.10,184.28 106.60,184.61 107.10,184.29 107.60,184.16 108.10,184.35 108.60,184.38 109.10,184.47 109.60,184.62 110.10,184.32 110.60,184.24 111.10,184.20 111.60,184.03 112.10,184.45 112.60,184.59 113.10,184.63 113.60,184.22 114.10,184.52 114.60,184.60 115.10,184.48 115.60,184.59 116.10,184.46 116.60,184.27 117.10,184.10 117.60,184.09 118.10,183.97 118.60,184.08 119.10,184.39 119.60,184.51 120.10,184.66 120.60,184.66 121.10,184.39 121.60,184.43 122.10,184.38 122.60,184.56 123.10,184.49 123.60,184.31 124.10,184.44 124.60,184.70 125.10,184.38 125.60,184.62 126.10,184.22 126.50,181.43 127.00,174.50 127.30,164.60 128.50,184.40 129.70,203.60 130.40,192.08 131.40,186.32 131.90,184.26 132.40,184.17 132.90,184.43 133.40,184.68 133.90,184.69 134.40,184.44 134.90,184.65 135.40,184.42 135.90,184.25 136.40,184.57 136.90,184.56 137.40,184.60 137.90,184.60 138.40,184.79 138.90,184.57 139.40,184.69 139.90,184.66 140.40,184.75 140.90,184.54 141.40,184.60 141.90,184.54 142.40,184.36 142.90,184.21 143.40,184.38 143.90,184.13 144.40,184.51 144.90,184.24 145.40,184.04 145.90,183.98 146.40,184.45 146.90,184.33 147.40,184.15 147.90,183.99 148.40,183.92 148.90,184.28 149.40,184.42 149.90,184.53 150.40,184.61 150.90,184.24 151.40,184.38 151.90,184.31 152.40,184.54 152.90,184.66 153.40,184.77 153.90,184.32 154.40,184.58 154.90,184.74 155.40,184.84 155.90,184.38 156.40,184.21 156.90,184.07 157.40,183.96 157.90,184.39 158.40,184.58 158.90,184.57 159.40,184.68 159.90,184.62 160.40,184.38 160.90,184.15 161.40,184.03 161.90,184.37 162.40,184.21 162.90,184.20 163.40,184.25 163.90,184.04 164.40,184.07 164.90,184.11 165.40,184.38 165.90,184.31 166.40,184.25 166.90,184.60 167.40,184.50 167.90,184.66 168.40,184.60 168.90,184.22 169.40,184.26 169.90,184.29 170.40,184.51 170.90,184.36 171.40,184.50 171.90,184.47 172.40,184.27 172.90,184.55 173.40,184.23 173.90,184.51 174.40,184.26 174.90,184.03 175.40,184.04 175.90,184.38 176.40,184.67 176.90,184.24 177.40,184.31 177.90,184.35 178.40,184.55 178.90,184.29 179.40,184.34" fill="none" stroke="#a48c72" stroke-width="1.1" stroke-linejoin="round" />
<text x="0" y="0" font-size="8" text-anchor="end" fill="#c8a898" stroke="#c8a898" font-weight="normal" transform="translate(178.00,181.50) scale(1,1.12)" >5 min</text>
<polyline points="29.10,220.31 29.60,220.55 30.10,220.33 30.60,220.63 31.10,220.39 31.60,220.22 32.10,220.43 32.60,220.41 33.10,220.17 33.60,220.37 34.10,220.13 34.60,220.44 35.10,220.54 35.60,220.64 36.10,220.60 36.60,220.41 37.10,220.35 37.60,220.31 38.10,220.59 38.60,220.25 39.10,220.56 39.60,220.19 40.10,220.12 40.60,220.12 41.10,220.50 41.60,220.45 42.10,220.35 42.60,220.61 43.10,220.34 43.60,220.35 44.10,220.39 44.60,220.55 45.10,220.63 45.60,220.60 46.10,220.41 46.60,220.30 47.10,220.14 47.60,220.48 48.10,220.54 48.60,220.61 49.10,220.31 49.60,220.32 50.10,220.52 50.60,220.51 51.10,220.23 51.60,220.29 52.10,220.58 52.60,220.33 53.10,220.18 53.60,220.17 54.10,220.41 54.60,220.61 55.10,220.30 55.60,220.14 56.10,220.12 56.60,220.16 57.10,220.29 57.60,220.14 58.10,220.17 58.60,220.10 59.10,220.53 59.60,220.60 60.10,220.26 60.60,220.61 61.10,220.27 61.60,220.26 62.10,220.62 62.60,220.69 63.10,220.68 63.60,220.50 64.10,220.27 64.60,220.42 65.10,220.17 65.60,220.11 66.10,220.19 66.60,220.01 67.10,220.15 67.60,220.45 68.10,220.54 68.60,220.47 69.10,220.51 69.60,220.44 70.10,220.20 70.60,220.36 71.10,220.32 71.60,220.51 72.10,220.70 72.60,220.51 73.10,220.50 73.60,220.60 74.10,219.31 74.60,216.75 74.90,213.10 76.10,220.40 77.30,229.00 78.00,223.84 79.00,221.26 79.50,220.35 80.00,220.21 80.50,220.44 81.00,220.65 81.50,220.69 82.00,220.66 82.50,220.74 83.00,220.68 83.50,220.62 84.00,220.48 84.50,220.33 85.00,220.44 85.50,220.18 86.00,220.24 86.50,220.49 87.00,220.57 87.50,220.56 88.00,220.33 88.50,220.32 89.00,220.33 89.50,220.44 90.00,220.37 90.50,220.49 91.00,220.70 91.50,220.36 92.00,220.47 92.50,220.60 93.00,220.43 93.50,220.41 94.00,220.69 94.50,220.27 95.00,220.36 95.50,220.18 96.00,220.46 96.50,220.69 97.00,220.56 97.50,220.24 98.00,220.36 98.50,220.41 99.00,220.53 99.50,220.47 100.00,220.52 100.20,219.31 100.70,216.75 101.00,213.10 102.20,220.40 103.40,229.00 104.10,223.84 105.10,221.26 105.60,220.60 106.10,220.51 106.60,220.40 107.10,220.67 107.60,220.36 108.10,220.49 108.60,220.38 109.10,220.55 109.60,220.25 110.10,220.61 110.60,220.42 111.10,220.14 111.60,220.14 112.10,220.21 112.60,220.01 113.10,220.16 113.60,220.23 114.10,220.43 114.60,220.33 115.10,220.22 115.60,220.15 116.10,220.42 116.60,220.67 117.10,220.55 117.60,220.31 118.10,220.53 118.60,220.40 119.10,220.23 119.60,220.09 120.10,220.41 120.60,220.59 121.10,220.58 121.60,220.47 122.10,220.47 122.60,220.27 123.10,220.61 123.60,220.42 124.10,220.49 124.60,220.64 125.10,220.71 125.60,220.54 126.10,220.34 126.50,219.31 127.00,216.75 127.30,213.10 128.50,220.40 129.70,229.00 130.40,223.84 131.40,221.26 131.90,220.43 132.40,220.19 132.90,220.50 133.40,220.36 133.90,220.59 134.40,220.36 134.90,220.30 135.40,220.20 135.90,220.26 136.40,220.14 136.90,219.97 137.40,220.32 137.90,220.23 138.40,220.16 138.90,220.16 139.40,220.27 139.90,220.29 140.40,220.43 140.90,220.51 141.40,220.37 141.90,220.64 142.40,220.73 142.90,220.30 143.40,220.55 143.90,220.72 144.40,220.73 144.90,220.35 145.40,220.57 145.90,220.57 146.40,220.19 146.90,220.00 147.40,220.47 147.90,220.53 148.40,220.31 148.90,220.12 149.40,220.04 149.90,220.06 150.40,220.40 150.90,220.31 151.40,220.14 151.90,220.51 152.40,220.63 152.90,220.32 153.40,220.59 153.90,220.56 154.40,220.65 154.90,220.63 155.40,220.75 155.90,220.75 156.40,220.78 156.90,220.41 157.40,220.52 157.90,220.48 158.40,220.58 158.90,220.46 159.40,220.66 159.90,220.56 160.40,220.34 160.90,220.21 161.40,220.09 161.90,220.24 162.40,220.06 162.90,220.21 163.40,220.09 163.90,220.24 164.40,220.32 164.90,220.38 165.40,220.61 165.90,220.21 166.40,220.51 166.90,220.44 167.40,220.46 167.90,220.53 168.40,220.67 168.90,220.46 169.40,220.38 169.90,220.67 170.40,220.28 170.90,220.42 171.40,220.49 171.90,220.16 172.40,220.35 172.90,220.48 173.40,220.70 173.90,220.45 174.40,220.71 174.90,220.56 175.40,220.47 175.90,220.67 176.40,220.26 176.90,220.46 177.40,220.51 177.90,220.36 178.40,220.59 178.90,220.42 179.40,220.39" fill="none" stroke="#a89478" stroke-width="1.1" stroke-linejoin="round" />
<text x="0" y="0" font-size="8" text-anchor="end" fill="#a89a88" stroke="#a89a88" font-weight="normal" transform="translate(178.00,218.40) scale(1,1.12)" >2 min</text>
<polyline points="29.10,246.92 29.60,247.07 30.10,246.81 30.60,246.82 31.10,246.81 31.60,246.89 32.10,247.09 32.60,246.87 33.10,247.08 33.60,246.93 34.10,246.92 34.60,246.77 35.10,246.84 35.60,247.16 36.10,247.12 36.60,247.19 37.10,246.94 37.60,246.81 38.10,246.73 38.60,246.87 39.10,246.97 39.60,247.10 40.10,246.73 40.60,246.95 41.10,247.15 41.60,247.05 42.10,246.71 42.60,246.68 43.10,246.50 43.60,246.51 44.10,246.96 44.60,246.99 45.10,247.04 45.60,247.14 46.10,247.27 46.60,247.15 47.10,247.10 47.60,247.07 48.10,247.10 48.60,247.06 49.10,247.09 49.60,246.82 50.10,246.96 50.60,246.91 51.10,247.06 51.60,246.74 52.10,246.63 52.60,246.49 53.10,246.86 53.60,247.13 54.10,247.11 54.60,246.92 55.10,247.11 55.60,247.17 56.10,247.07 56.60,246.84 57.10,246.75 57.60,246.78 58.10,246.73 58.60,246.77 59.10,246.92 59.60,247.17 60.10,246.77 60.60,246.87 61.10,246.61 61.60,246.53 62.10,246.90 62.60,246.94 63.10,247.17 63.60,247.00 64.10,246.66 64.60,246.71 65.10,246.86 65.60,247.14 66.10,247.31 66.60,247.09 67.10,246.94 67.60,246.68 68.10,246.88 68.60,246.72 69.10,246.60 69.60,246.46 70.10,246.38 70.60,246.75 71.10,246.60 71.60,247.03 72.10,246.72 72.60,247.03 73.10,246.74 73.60,246.53 74.10,246.19 74.60,244.55 74.90,242.20 76.10,246.90 77.30,251.50 78.00,248.74 79.00,247.36 79.50,247.03 80.00,246.81 80.50,247.00 81.00,246.76 81.50,246.56 82.00,246.89 82.50,247.03 83.00,247.18 83.50,247.18 84.00,246.79 84.50,246.92 85.00,247.04 85.50,246.94 86.00,247.18 86.50,246.89 87.00,247.18 87.50,247.17 88.00,246.74 88.50,246.53 89.00,246.81 89.50,247.04 90.00,246.72 90.50,246.70 91.00,246.94 91.50,246.72 92.00,247.03 92.50,246.95 93.00,246.66 93.50,246.70 94.00,246.85 94.50,246.84 95.00,246.97 95.50,246.72 96.00,246.99 96.50,246.86 97.00,246.97 97.50,247.01 98.00,246.91 98.50,246.83 99.00,247.04 99.50,247.24 100.00,247.24 100.20,246.19 100.70,244.55 101.00,242.20 102.20,246.90 103.40,251.50 104.10,248.74 105.10,247.36 105.60,246.94 106.10,246.80 106.60,246.58 107.10,247.03 107.60,247.09 108.10,247.19 108.60,246.94 109.10,246.99 109.60,247.23 110.10,247.26 110.60,247.14 111.10,246.91 111.60,246.86 112.10,247.11 112.60,246.93 113.10,247.03 113.60,247.02 114.10,247.20 114.60,247.23 115.10,246.94 115.60,246.62 116.10,246.62 116.60,246.71 117.10,246.86 117.60,247.07 118.10,247.22 118.60,246.78 119.10,247.04 119.60,247.16 120.10,247.25 120.60,247.12 121.10,246.87 121.60,247.10 122.10,247.18 122.60,247.15 123.10,247.27 123.60,247.00 124.10,246.70 124.60,246.83 125.10,247.04 125.60,246.79 126.10,247.00 126.50,246.19 127.00,244.55 127.30,242.20 128.50,246.90 129.70,251.50 130.40,248.74 131.40,247.36 131.90,247.16 132.40,246.87 132.90,246.95 133.40,247.03 133.90,246.94 134.40,246.75 134.90,246.68 135.40,246.94 135.90,247.09 136.40,246.97 136.90,246.69 137.40,246.98 137.90,247.10 138.40,246.84 138.90,246.92 139.40,247.15 139.90,247.25 140.40,247.09 140.90,246.98 141.40,246.99 141.90,246.76 142.40,246.65 142.90,246.58 143.40,246.86 143.90,246.80 144.40,246.89 144.90,246.84 145.40,246.88 145.90,246.68 146.40,246.52 146.90,247.01 147.40,246.88 147.90,246.65 148.40,246.86 148.90,247.05 149.40,246.77 149.90,246.89 150.40,246.80 150.90,246.86 151.40,246.59 151.90,246.47 152.40,246.98 152.90,247.16 153.40,247.02 153.90,247.00 154.40,246.81 154.90,247.02 155.40,246.92 155.90,247.18 156.40,247.20 156.90,247.24 157.40,247.35 157.90,246.98 158.40,246.66 158.90,246.60 159.40,246.56 159.90,246.48 160.40,246.42 160.90,246.69 161.40,247.02 161.90,246.93 162.40,247.19 162.90,247.29 163.40,246.83 163.90,246.93 164.40,246.85 164.90,246.65 165.40,247.05 165.90,246.83 166.40,246.90 166.90,246.99 167.40,247.22 167.90,247.16 168.40,246.97 168.90,246.90 169.40,246.70 169.90,247.08 170.40,247.28 170.90,246.93 171.40,246.64 171.90,246.62 172.40,246.67 172.90,247.03 173.40,247.21 173.90,247.26 174.40,246.81 174.90,247.02 175.40,247.09 175.90,247.08 176.40,247.28 176.90,246.82 177.40,246.65 177.90,246.93 178.40,247.18 178.90,247.14 179.40,246.90" fill="none" stroke="#c49a88" stroke-width="1.1" stroke-linejoin="round" />
<text x="0" y="0" font-size="8" text-anchor="end" fill="#c0a898" stroke="#c0a898" font-weight="normal" transform="translate(178.00,244.00) scale(1,1.12)" >1 min</text>
<polyline points="29.10,267.65 29.60,267.78 30.10,267.45 30.60,267.42 31.10,267.36 31.60,267.26 32.10,267.42 32.60,267.31 33.10,267.30 33.60,267.23 34.10,267.52 34.60,267.27 35.10,267.57 35.60,267.40 36.10,267.22 36.60,267.67 37.10,267.47 37.60,267.79 38.10,267.92 38.60,267.99 39.10,267.58 39.60,267.56 40.10,267.34 40.60,267.73 41.10,267.87 41.60,267.81 42.10,267.68 42.60,267.54 43.10,267.77 43.60,267.67 44.10,267.71 44.60,267.44 45.10,267.35 45.60,267.21 46.10,267.53 46.60,267.60 47.10,267.39 47.60,267.72 48.10,267.52 48.60,267.51 49.10,267.35 49.60,267.34 50.10,267.67 50.60,267.54 51.10,267.37 51.60,267.48 52.10,267.43 52.60,267.76 53.10,267.45 53.60,267.81 54.10,267.44 54.60,267.76 55.10,267.78 55.60,267.52 56.10,267.54 56.60,267.44 57.10,267.38 57.60,267.31 58.10,267.37 58.60,267.78 59.10,267.99 59.60,268.05 60.10,267.58 60.60,267.47 61.10,267.77 61.60,267.42 62.10,267.65 62.60,267.50 63.10,267.84 63.60,267.43 64.10,267.70 64.60,267.55 65.10,267.36 65.60,267.18 66.10,267.59 66.60,267.61 67.10,267.42 67.60,267.47 68.10,267.78 68.60,267.52 69.10,267.60 69.60,267.38 70.10,267.30 70.60,267.61 71.10,267.73 71.60,267.48 72.10,267.29 72.60,267.20 73.10,267.46 73.60,267.53 74.10,267.43 74.60,267.34 75.10,267.54 75.60,267.69 76.10,267.83 76.60,267.77 77.10,267.50 77.60,267.29 78.10,267.59 78.60,267.54 79.10,267.70 79.60,267.38 80.10,267.68 80.60,267.54 81.10,267.78 81.60,267.91 82.10,267.75 82.60,267.38 83.10,267.74 83.60,267.65 84.10,267.85 84.60,267.59 85.10,267.40 85.60,267.70 86.10,267.57 86.60,267.38 87.10,267.41 87.60,267.56 88.10,267.28 88.60,267.45 89.10,267.49 89.60,267.56 90.10,267.35 90.60,267.60 91.10,267.79 91.60,267.92 92.10,267.65 92.60,267.75 93.10,267.60 93.60,267.75 94.10,267.41 94.60,267.73 95.10,267.94 95.60,267.77 96.10,267.69 96.60,267.66 97.10,267.65 97.60,267.34 98.10,267.75 98.60,267.51 99.10,267.36 99.60,267.24 100.10,267.27 100.60,267.63 101.10,267.33 101.60,267.22 102.10,267.53 102.60,267.38 103.10,267.20 103.60,267.46 104.10,267.58 104.60,267.60 105.10,267.72 105.60,267.42 106.10,267.73 106.60,267.80 107.10,267.43 107.60,267.29 108.10,267.44 108.60,267.52 109.10,267.43 109.60,267.29 110.10,267.39 110.60,267.28 111.10,267.49 111.60,267.76 112.10,267.47 112.60,267.58 113.10,267.74 113.60,267.47 114.10,267.73 114.60,267.93 115.10,267.70 115.60,267.60 116.10,267.80 116.60,267.72 117.10,267.60 117.60,267.86 118.10,267.90 118.60,267.65 119.10,267.47 119.60,267.44 120.10,267.48 120.60,267.83 121.10,267.90 121.60,268.00 122.10,267.99 122.60,268.00 123.10,267.53 123.60,267.58 124.10,267.86 124.60,267.99 125.10,267.65 125.60,267.58 126.10,267.67 126.60,267.55 127.10,267.59 127.60,267.34 128.10,267.43 128.60,267.52 129.10,267.27 129.60,267.22 130.10,267.69 130.60,267.81 131.10,267.97 131.60,267.86 132.10,267.92 132.60,267.99 133.10,268.03 133.60,267.53 134.10,267.65 134.60,267.49 135.10,267.65 135.60,267.49 136.10,267.57 136.60,267.84 137.10,267.79 137.60,267.55 138.10,267.59 138.60,267.55 139.10,267.85 139.60,267.60 140.10,267.48 140.60,267.63 141.10,267.39 141.60,267.55 142.10,267.85 142.60,267.73 143.10,267.53 143.60,267.54 144.10,267.59 144.60,267.39 145.10,267.27 145.60,267.21 146.10,267.28 146.60,267.39 147.10,267.37 147.60,267.33 148.10,267.22 148.60,267.44 149.10,267.72 149.60,267.73 150.10,267.71 150.60,267.74 151.10,267.49 151.60,267.67 152.10,267.61 152.60,267.64 153.10,267.69 153.60,267.62 154.10,267.50 154.60,267.39 155.10,267.33 155.60,267.47 156.10,267.47 156.60,267.58 157.10,267.30 157.60,267.36 158.10,267.70 158.60,267.49 159.10,267.58 159.60,267.58 160.10,267.46 160.60,267.82 161.10,267.59 161.60,267.76 162.10,267.47 162.60,267.28 163.10,267.66 163.60,267.59 164.10,267.33 164.60,267.40 165.10,267.46 165.60,267.67 166.10,267.40 166.60,267.34 167.10,267.74 167.60,267.82 168.10,267.50 168.60,267.45 169.10,267.44 169.60,267.62 170.10,267.68 170.60,267.85 171.10,267.92 171.60,267.77 172.10,267.83 172.60,267.86 173.10,267.89 173.60,267.73 174.10,267.83 174.60,267.84 175.10,267.97 175.60,267.56 176.10,267.80 176.60,267.40 177.10,267.66 177.60,267.68 178.10,267.64 178.60,267.90 179.10,267.79 179.60,267.65" fill="none" stroke="#d4cab8" stroke-width="1.1" stroke-linejoin="round" />
<text x="0" y="0" font-size="8" text-anchor="end" fill="#d0a8b0" stroke="#d0a8b0" font-weight="normal" transform="translate(178.00,263.80) scale(1,1.12)" >0 min</text>
<rect x="206.30" y="158.50" width="151.60" height="121.50" fill="none" stroke="#5a5a5a" stroke-width="1"/>
<line x1="206.30" y1="280.00" x2="206.30" y2="282.00" stroke="#5a5a5a" stroke-width="1"/>
<text x="0" y="0" font-size="7.7" text-anchor="middle" fill="#333" stroke="#333" font-weight="normal" transform="translate(206.30,289.20) scale(1,1.12)" >3450</text>
<line x1="244.20" y1="280.00" x2="244.20" y2="282.00" stroke="#5a5a5a" stroke-width="1"/>
<text x="0" y="0" font-size="7.7" text-anchor="middle" fill="#333" stroke="#333" font-weight="normal" transform="translate(244.20,289.20) scale(1,1.12)" >3475</text>
<line x1="282.10" y1="280.00" x2="282.10" y2="282.00" stroke="#5a5a5a" stroke-width="1"/>
<text x="0" y="0" font-size="7.7" text-anchor="middle" fill="#333" stroke="#333" font-weight="normal" transform="translate(282.10,289.20) scale(1,1.12)" >3500</text>
<line x1="320.00" y1="280.00" x2="320.00" y2="282.00" stroke="#5a5a5a" stroke-width="1"/>
<text x="0" y="0" font-size="7.7" text-anchor="middle" fill="#333" stroke="#333" font-weight="normal" transform="translate(320.00,289.20) scale(1,1.12)" >3525</text>
<line x1="357.90" y1="280.00" x2="357.90" y2="282.00" stroke="#5a5a5a" stroke-width="1"/>
<text x="0" y="0" font-size="7.7" text-anchor="middle" fill="#333" stroke="#333" font-weight="normal" transform="translate(357.90,289.20) scale(1,1.12)" >3550</text>
<text x="0" y="0" font-size="8" text-anchor="middle" fill="#333" stroke="#333" font-weight="normal" transform="translate(282.20,301.00) scale(1,1.12)" >Magnetic field (G)</text>
<text x="0" y="0" font-size="8" text-anchor="middle" fill="#333" stroke="#333" transform="translate(198.20,216.30) rotate(-90) scale(1,1.12)">Intensity (a.u.)</text>
<text x="0" y="0" font-size="10.5" text-anchor="start" fill="#222" stroke="#222" font-weight="bold" transform="translate(185.00,164.00) scale(1,1.12)" >e</text>
<text x="0" y="0" font-size="8" fill="#2a2a2a" stroke="#2a2a2a" transform="translate(210.4,169.6) scale(1,1.12)">DMPO-•O<tspan font-size="5.5" dy="1.8">2</tspan><tspan font-size="5.5" dy="-5">-</tspan></text>
<polyline points="206.80,189.85 207.80,190.60 208.80,189.39 209.80,187.98 210.80,188.07 211.80,188.12 212.80,189.49 213.80,187.56 214.80,187.67 215.80,188.54 216.80,187.84 217.80,187.38 218.80,189.67 219.80,190.44 220.80,188.81 221.80,188.19 222.80,186.74 223.80,187.07 224.80,186.32 225.80,188.37 226.80,188.81 227.80,186.37 228.80,190.15 229.80,187.85 230.80,190.05 231.80,190.46 232.80,191.16 233.80,187.44 234.80,187.83 235.80,190.39 236.80,186.29 237.80,185.66 238.80,188.18 239.80,188.34 240.80,190.54 241.80,190.23 242.80,188.96 243.80,191.06 244.80,189.02 245.80,188.61 246.80,189.39 247.80,188.03 248.80,187.60 249.80,188.72 250.80,187.70 251.80,190.55 252.80,189.73 253.80,188.80 254.80,186.43 255.80,187.36 256.80,187.69 257.80,188.57 258.80,188.81 259.80,190.43 260.80,191.18 261.80,188.89 262.80,188.19 263.80,189.00 264.80,191.06 265.80,188.13 266.80,188.50 267.80,190.04 268.80,187.04 269.80,187.20 270.80,190.61 271.80,190.51 272.80,188.89 273.80,186.50 274.80,190.04 275.80,189.70 276.80,190.30 277.80,191.29 278.80,190.97 279.80,188.51 280.80,186.66 281.80,186.98 282.80,188.17 283.80,188.38 284.80,186.80 285.80,186.45 286.80,188.68 287.80,188.98 288.80,187.76 289.80,190.80 290.80,189.58 291.80,186.29 292.80,187.52 293.80,189.70 294.80,187.67 295.80,189.23 296.80,186.03 297.80,186.92 298.80,189.86 299.80,189.13 300.80,189.41 301.80,187.05 302.80,188.12 303.80,188.62 304.80,187.25 305.80,188.92 306.80,188.67 307.80,191.00 308.80,189.30 309.80,188.13 310.80,186.41 311.80,186.24 312.80,189.30 313.80,186.57 314.80,185.99 315.80,186.23 316.80,188.08 317.80,189.99 318.80,189.30 319.80,190.15 320.80,186.51 321.80,185.53 322.80,189.21 323.80,187.65 324.80,189.35 325.80,187.84 326.80,186.60 327.80,186.84 328.80,186.04 329.80,190.00 330.80,189.14 331.80,187.77 332.80,188.02 333.80,187.74 334.80,185.99 335.80,189.92 336.80,189.13 337.80,190.90 338.80,188.59 339.80,189.05 340.80,187.25 341.80,185.83 342.80,190.09 343.80,190.55 344.80,187.88 345.80,190.34 346.80,190.41 347.80,187.80 348.80,188.80 349.80,190.84 350.80,188.86 351.80,190.80 352.80,187.56 353.80,187.67 354.80,189.37 355.80,187.17 356.80,187.18" fill="none" stroke="#a89e84" stroke-width="1.05" stroke-linejoin="round" />
<text x="0" y="0" font-size="8" text-anchor="end" fill="#d09888" stroke="#d09888" font-weight="normal" transform="translate(355.80,182.60) scale(1,1.12)" >5 min</text>
<polyline points="206.80,217.32 207.80,215.70 208.80,216.96 209.80,214.40 210.80,213.53 211.80,214.30 212.80,213.58 213.80,217.45 214.80,214.74 215.80,215.58 216.80,213.46 217.80,215.19 218.80,214.77 219.80,214.78 220.80,213.05 221.80,213.00 222.80,216.59 223.80,214.88 224.80,213.99 225.80,213.54 226.80,213.92 227.80,213.76 228.80,212.69 229.80,215.70 230.80,214.65 231.80,213.49 232.80,216.07 233.80,213.45 234.80,213.83 235.80,216.80 236.80,213.77 237.80,214.78 238.80,217.00 239.80,217.28 240.80,214.03 241.80,214.37 242.80,216.33 243.80,214.96 244.80,217.66 245.80,214.36 246.80,217.50 247.80,215.84 248.80,214.09 249.80,214.90 250.80,213.41 251.80,216.06 252.80,214.31 253.80,217.23 254.80,216.21 255.80,214.89 256.80,214.00 257.80,215.67 258.80,213.98 259.80,217.02 260.80,213.79 261.80,215.15 262.80,215.57 263.80,214.26 264.80,216.56 265.80,215.04 266.80,216.14 267.80,215.89 268.80,214.53 269.80,214.66 270.80,213.13 271.80,213.29 272.80,216.78 273.80,214.76 274.80,216.11 275.80,213.54 276.80,215.35 277.80,214.68 278.80,215.26 279.80,214.33 280.80,212.96 281.80,213.95 282.80,213.71 283.80,213.15 284.80,216.06 285.80,214.42 286.80,214.71 287.80,217.36 288.80,217.20 289.80,217.72 290.80,217.71 291.80,213.98 292.80,213.97 293.80,212.71 294.80,215.78 295.80,216.31 296.80,214.82 297.80,214.84 298.80,216.10 299.80,216.56 300.80,214.34 301.80,216.96 302.80,214.96 303.80,215.97 304.80,213.88 305.80,213.13 306.80,217.06 307.80,216.93 308.80,216.79 309.80,213.33 310.80,212.63 311.80,213.12 312.80,213.40 313.80,213.99 314.80,214.51 315.80,212.86 316.80,213.92 317.80,215.81 318.80,213.84 319.80,216.83 320.80,216.04 321.80,216.64 322.80,214.39 323.80,214.87 324.80,216.24 325.80,214.79 326.80,212.72 327.80,216.58 328.80,217.05 329.80,214.64 330.80,212.91 331.80,216.71 332.80,216.21 333.80,213.24 334.80,213.66 335.80,213.06 336.80,216.42 337.80,214.12 338.80,217.27 339.80,217.05 340.80,213.61 341.80,216.04 342.80,214.98 343.80,216.58 344.80,217.32 345.80,214.66 346.80,213.15 347.80,217.24 348.80,215.38 349.80,217.60 350.80,216.82 351.80,216.91 352.80,217.39 353.80,216.45 354.80,215.37 355.80,213.11 356.80,215.96" fill="none" stroke="#a89e84" stroke-width="1.05" stroke-linejoin="round" />
<text x="0" y="0" font-size="8" text-anchor="end" fill="#a89a88" stroke="#a89a88" font-weight="normal" transform="translate(355.80,208.70) scale(1,1.12)" >2 min</text>
<polyline points="206.80,244.48 207.80,244.79 208.80,246.72 209.80,243.52 210.80,245.72 211.80,242.94 212.80,245.34 213.80,246.28 214.80,244.03 215.80,244.85 216.80,246.91 217.80,245.84 218.80,245.20 219.80,243.76 220.80,242.62 221.80,243.73 222.80,244.19 223.80,243.34 224.80,243.66 225.80,242.94 226.80,245.36 227.80,245.67 228.80,243.80 229.80,243.44 230.80,244.60 231.80,244.51 232.80,246.70 233.80,244.51 234.80,243.84 235.80,246.33 236.80,243.50 237.80,244.82 238.80,244.06 239.80,246.06 240.80,245.27 241.80,246.06 242.80,243.57 243.80,245.30 244.80,245.34 245.80,244.73 246.80,245.98 247.80,246.52 248.80,243.42 249.80,243.58 250.80,243.93 251.80,243.31 252.80,242.53 253.80,243.36 254.80,243.16 255.80,245.37 256.80,244.68 257.80,243.04 258.80,243.66 259.80,244.43 260.80,244.11 261.80,243.18 262.80,242.56 263.80,242.16 264.80,246.48 265.80,246.26 266.80,243.23 267.80,245.46 268.80,247.08 269.80,245.54 270.80,243.20 271.80,244.43 272.80,244.43 273.80,243.34 274.80,244.70 275.80,242.58 276.80,246.24 277.80,245.73 278.80,245.56 279.80,246.90 280.80,245.90 281.80,243.91 282.80,243.48 283.80,242.92 284.80,242.31 285.80,245.53 286.80,246.47 287.80,244.22 288.80,243.28 289.80,245.11 290.80,246.41 291.80,247.03 292.80,243.76 293.80,245.87 294.80,246.49 295.80,246.22 296.80,244.31 297.80,243.29 298.80,245.96 299.80,244.23 300.80,244.10 301.80,244.89 302.80,244.23 303.80,246.17 304.80,243.91 305.80,242.57 306.80,244.65 307.80,245.34 308.80,246.34 309.80,246.03 310.80,246.86 311.80,247.21 312.80,245.26 313.80,244.89 314.80,243.28 315.80,243.60 316.80,244.92 317.80,242.94 318.80,245.27 319.80,243.39 320.80,244.26 321.80,246.80 322.80,243.36 323.80,242.45 324.80,244.06 325.80,243.27 326.80,245.49 327.80,242.71 328.80,245.91 329.80,246.61 330.80,246.45 331.80,244.80 332.80,243.83 333.80,245.33 334.80,244.97 335.80,244.48 336.80,244.01 337.80,244.37 338.80,245.46 339.80,246.39 340.80,246.93 341.80,243.72 342.80,243.67 343.80,244.32 344.80,244.99 345.80,244.16 346.80,243.31 347.80,242.64 348.80,243.58 349.80,244.38 350.80,246.83 351.80,247.04 352.80,246.88 353.80,247.34 354.80,247.38 355.80,245.85 356.80,246.40" fill="none" stroke="#c4b89c" stroke-width="1.05" stroke-linejoin="round" />
<text x="0" y="0" font-size="8" text-anchor="end" fill="#b0a490" stroke="#b0a490" font-weight="normal" transform="translate(355.80,239.70) scale(1,1.12)" >1 min</text>
<polyline points="206.80,266.17 207.80,268.37 208.80,268.53 209.80,267.26 210.80,268.15 211.80,269.91 212.80,268.30 213.80,268.67 214.80,267.30 215.80,267.21 216.80,269.44 217.80,266.32 218.80,266.37 219.80,268.42 220.80,267.86 221.80,266.25 222.80,268.32 223.80,267.53 224.80,268.24 225.80,267.70 226.80,268.06 227.80,268.28 228.80,267.63 229.80,266.32 230.80,266.33 231.80,269.29 232.80,268.46 233.80,266.48 234.80,269.20 235.80,267.21 236.80,266.16 237.80,267.76 238.80,266.92 239.80,267.74 240.80,268.17 241.80,266.90 242.80,268.08 243.80,266.41 244.80,267.74 245.80,268.32 246.80,266.32 247.80,267.28 248.80,266.08 249.80,267.36 250.80,269.39 251.80,268.49 252.80,268.99 253.80,269.27 254.80,266.65 255.80,269.77 256.80,269.28 257.80,266.60 258.80,269.09 259.80,267.77 260.80,266.59 261.80,269.63 262.80,268.59 263.80,269.26 264.80,266.74 265.80,268.90 266.80,266.34 267.80,266.57 268.80,267.18 269.80,265.82 270.80,267.96 271.80,266.80 272.80,266.93 273.80,268.65 274.80,267.82 275.80,269.58 276.80,268.82 277.80,269.71 278.80,268.60 279.80,269.86 280.80,269.91 281.80,267.00 282.80,268.82 283.80,267.50 284.80,269.00 285.80,268.95 286.80,269.54 287.80,266.74 288.80,267.22 289.80,268.83 290.80,270.03 291.80,269.33 292.80,266.37 293.80,268.11 294.80,266.36 295.80,267.87 296.80,269.24 297.80,266.64 298.80,269.50 299.80,269.03 300.80,267.18 301.80,266.56 302.80,267.49 303.80,269.30 304.80,268.60 305.80,266.51 306.80,265.71 307.80,265.92 308.80,268.84 309.80,266.86 310.80,268.00 311.80,267.13 312.80,268.60 313.80,267.62 314.80,266.45 315.80,269.25 316.80,268.41 317.80,268.87 318.80,269.46 319.80,270.16 320.80,266.41 321.80,267.03 322.80,266.35 323.80,267.68 324.80,269.49 325.80,269.55 326.80,266.38 327.80,266.35 328.80,268.99 329.80,268.95 330.80,267.74 331.80,267.85 332.80,266.55 333.80,269.15 334.80,267.79 335.80,269.51 336.80,268.76 337.80,266.39 338.80,266.97 339.80,266.61 340.80,269.36 341.80,268.64 342.80,266.23 343.80,266.27 344.80,267.08 345.80,267.68 346.80,268.26 347.80,267.58 348.80,267.31 349.80,265.81 350.80,267.89 351.80,267.29 352.80,265.86 353.80,267.40 354.80,269.90 355.80,266.49 356.80,266.22" fill="none" stroke="#d6cab6" stroke-width="1.05" stroke-linejoin="round" />
<text x="0" y="0" font-size="8" text-anchor="end" fill="#d0b0a0" stroke="#d0b0a0" font-weight="normal" transform="translate(355.80,262.40) scale(1,1.12)" >0 min</text>
<defs>
<linearGradient id="gf0" x1="0" x2="1" y1="0" y2="0"><stop offset="0" stop-color="#96a6d8"/><stop offset="0.5" stop-color="#c0cdf0"/><stop offset="1" stop-color="#9eaedc"/></linearGradient>
<linearGradient id="gf1" x1="0" x2="1" y1="0" y2="0"><stop offset="0" stop-color="#bcc060"/><stop offset="0.5" stop-color="#dadc80"/><stop offset="1" stop-color="#c0c464"/></linearGradient>
<linearGradient id="gf2" x1="0" x2="1" y1="0" y2="0"><stop offset="0" stop-color="#7c7c7c"/><stop offset="0.5" stop-color="#b8b8b8"/><stop offset="1" stop-color="#828282"/></linearGradient>
<linearGradient id="gf3" x1="0" x2="1" y1="0" y2="0"><stop offset="0" stop-color="#b870b0"/><stop offset="0.5" stop-color="#e0a0d8"/><stop offset="1" stop-color="#c070b8"/></linearGradient>
</defs>
<rect x="404.50" y="266.79" width="17.6" height="14.51" fill="url(#gf0)"/>
<rect x="438.80" y="274.35" width="17.6" height="6.95" fill="url(#gf1)"/>
<rect x="473.60" y="190.61" width="17.6" height="90.69" fill="url(#gf2)"/>
<rect x="508.50" y="271.79" width="17.6" height="9.51" fill="url(#gf3)"/>
<rect x="389.50" y="159.40" width="152.10" height="121.90" fill="none" stroke="#5a5a5a" stroke-width="1"/>
<line x1="387.50" y1="281.30" x2="389.50" y2="281.30" stroke="#5a5a5a" stroke-width="1"/>
<text x="0" y="0" font-size="7.7" text-anchor="end" fill="#333" stroke="#333" font-weight="normal" transform="translate(387.30,284.00) scale(1,1.12)" >0</text>
<line x1="387.50" y1="256.92" x2="389.50" y2="256.92" stroke="#5a5a5a" stroke-width="1"/>
<text x="0" y="0" font-size="7.7" text-anchor="end" fill="#333" stroke="#333" font-weight="normal" transform="translate(387.30,259.62) scale(1,1.12)" >20</text>
<line x1="387.50" y1="232.54" x2="389.50" y2="232.54" stroke="#5a5a5a" stroke-width="1"/>
<text x="0" y="0" font-size="7.7" text-anchor="end" fill="#333" stroke="#333" font-weight="normal" transform="translate(387.30,235.24) scale(1,1.12)" >40</text>
<line x1="387.50" y1="208.16" x2="389.50" y2="208.16" stroke="#5a5a5a" stroke-width="1"/>
<text x="0" y="0" font-size="7.7" text-anchor="end" fill="#333" stroke="#333" font-weight="normal" transform="translate(387.30,210.86) scale(1,1.12)" >60</text>
<line x1="387.50" y1="183.78" x2="389.50" y2="183.78" stroke="#5a5a5a" stroke-width="1"/>
<text x="0" y="0" font-size="7.7" text-anchor="end" fill="#333" stroke="#333" font-weight="normal" transform="translate(387.30,186.48) scale(1,1.12)" >80</text>
<line x1="387.50" y1="159.40" x2="389.50" y2="159.40" stroke="#5a5a5a" stroke-width="1"/>
<text x="0" y="0" font-size="7.7" text-anchor="end" fill="#333" stroke="#333" font-weight="normal" transform="translate(387.30,162.10) scale(1,1.12)" >100</text>
<text x="0" y="0" font-size="8.3" text-anchor="middle" fill="#333" stroke="#333" transform="translate(372.40,219.40) rotate(-90) scale(1,1.12)">Role of species (%)</text>
<text x="0" y="0" font-size="10.5" text-anchor="start" fill="#222" stroke="#222" font-weight="normal" transform="translate(366.90,164.00) scale(1,1.12)" >f</text>
<text x="0" y="0" font-size="8" text-anchor="middle" fill="#b0b4dc" stroke="#b0b4dc" transform="translate(414.6,293.0) scale(1,1.12)">OH</text>
<text x="0" y="0" font-size="8" text-anchor="middle" fill="#d0d088" stroke="#d0d088" transform="translate(447.6,291.8) scale(1,1.12)">SO<tspan font-size="5.5" dy="1.8">4</tspan><tspan font-size="5.5" dy="-5">-</tspan></text>
<text x="0" y="0" font-size="8" fill="#8a8a8a" stroke="#8a8a8a" transform="translate(477.6,291.8) scale(1,1.12)"><tspan font-size="5.5" dy="-3">1</tspan><tspan dy="3">O</tspan><tspan font-size="5.5" dy="1.8">2</tspan></text>
<text x="0" y="0" font-size="8" fill="#c890c4" stroke="#c890c4" transform="translate(511.8,291.8) scale(1,1.12)">O<tspan font-size="5.5" dy="1.8">2</tspan><tspan font-size="5.5" dy="-5">-</tspan></text>
</svg>
</body></html>
